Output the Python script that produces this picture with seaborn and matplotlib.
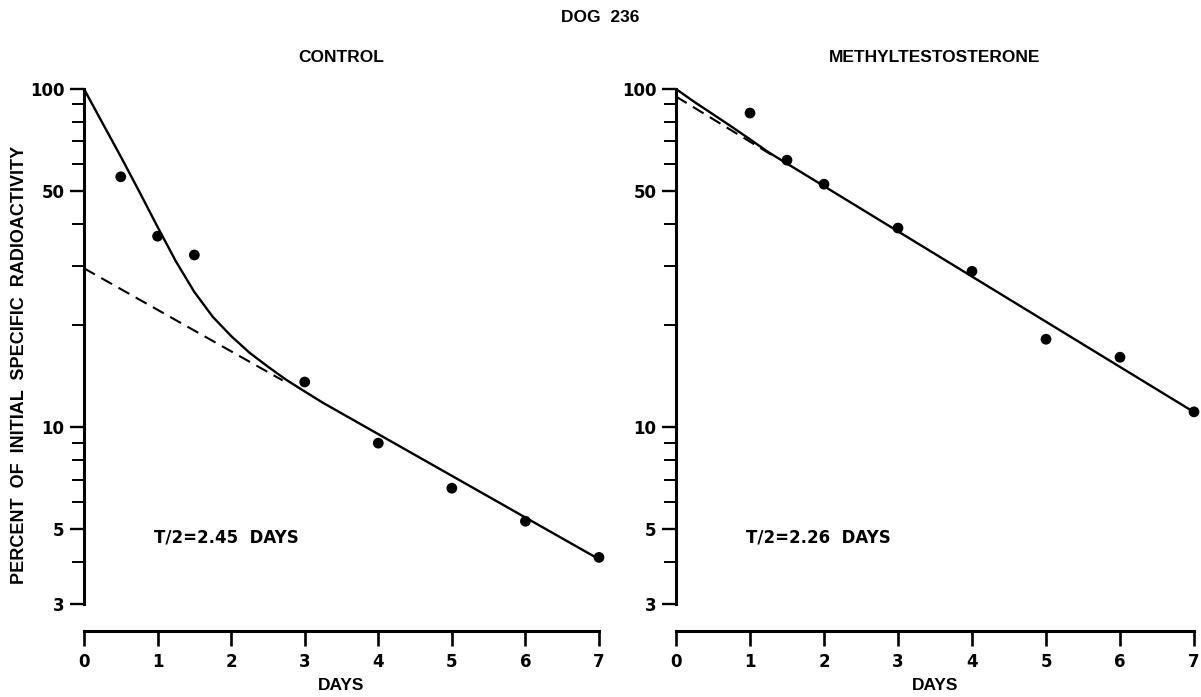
import matplotlib
matplotlib.use("Agg")
import matplotlib.pyplot as plt
import matplotlib.ticker as mticker
import seaborn as sns

# ---------------- data ----------------
days_ticks = [0, 1, 2, 3, 4, 5, 6, 7]
y_major = [3, 5, 10, 50, 100]
y_minor = [4, 6, 7, 8, 9, 20, 30, 40, 60, 70, 80, 90]

# CONTROL panel
ctrl_days = [0.5, 1.0, 1.5, 3.0, 4.0, 5.0, 6.0, 7.0]
ctrl_pct = [55.0, 36.7, 32.3, 13.6, 8.97, 6.6, 5.27, 4.12]
ctrl_curve_days = [0, 0.25, 0.5, 0.75, 1.0, 1.25, 1.5, 1.75, 2.0, 2.25, 2.5, 2.75, 3.0, 3.25, 7.0]
ctrl_curve_pct = [100, 79.4, 63.1, 49.8, 39.1, 30.9, 25.1, 21.2, 18.6, 16.6, 15.1, 13.8, 12.75, 11.8, 4.07]
ctrl_dash_days = [0, 2.7]
ctrl_dash_pct = [29.5, 13.75]
ctrl_label = "T/2=2.45  DAYS"

# METHYLTESTOSTERONE panel
meth_days = [1.0, 1.5, 2.0, 3.0, 4.0, 5.0, 6.0, 7.0]
meth_pct = [84.9, 61.6, 52.3, 38.8, 28.9, 18.2, 16.1, 11.1]
meth_curve_days = [0, 0.25, 0.5, 0.75, 1.0, 1.25, 7.0]
meth_curve_pct = [100, 91.5, 84.2, 77.4, 71.0, 65.0, 11.08]
meth_dash_days = [0, 1.3]
meth_dash_pct = [95, 63.7]
meth_label = "T/2=2.26  DAYS"

titles = ["CONTROL", "METHYLTESTOSTERONE"]
suptitle = "DOG  236"
ylabel = "PERCENT  OF  INITIAL  SPECIFIC  RADIOACTIVITY"
xlabel = "DAYS"

# ---------------- style ----------------
sns.set_theme(style="ticks")
NARROW = ["Liberation Sans Narrow", "Liberation Sans", "DejaVu Sans"]
WIDE = ["DejaVu Sans"]
plt.rcParams["font.family"] = NARROW
plt.rcParams["text.color"] = "black"
plt.rcParams["axes.labelcolor"] = "black"
plt.rcParams["axes.edgecolor"] = "black"
plt.rcParams["xtick.color"] = "black"
plt.rcParams["ytick.color"] = "black"

W, H = 1201, 697
fig = plt.figure(figsize=(W / 100, H / 100), dpi=100)
fig.patch.set_facecolor("white")

top_px, bot_px = 89, 604
axes_px = [(84, 599), (676, 1194)]
axes = []
for (l, r) in axes_px:
    ax = fig.add_axes([l / W, 1 - bot_px / H, (r - l) / W, (bot_px - top_px) / H])
    axes.append(ax)

panels = [
    (ctrl_days, ctrl_pct, ctrl_curve_days, ctrl_curve_pct, ctrl_dash_days, ctrl_dash_pct, ctrl_label),
    (meth_days, meth_pct, meth_curve_days, meth_curve_pct, meth_dash_days, meth_dash_pct, meth_label),
]

for i, (ax, p) in enumerate(zip(axes, panels)):
    pd_days, pd_pct, cd, cp, dd, dp, lab = p
    ax.set_facecolor("white")
    sns.lineplot(x=cd, y=cp, ax=ax, color="black", lw=1.7, clip_on=False, estimator=None)
    sns.lineplot(x=dd, y=dp, ax=ax, color="black", lw=1.5, linestyle=(0, (6, 3.5)),
                 clip_on=False, estimator=None)
    sns.scatterplot(x=pd_days, y=pd_pct, ax=ax, color="black", s=60, edgecolor="none",
                    zorder=5, clip_on=False)
    ax.set_yscale("log")
    ax.set_xlim(0, 7)
    ax.set_ylim(3, 100)

    ax.yaxis.set_major_locator(mticker.FixedLocator(y_major))
    ax.yaxis.set_major_formatter(mticker.FixedFormatter([str(v) for v in y_major]))
    ax.yaxis.set_minor_locator(mticker.FixedLocator(y_minor))
    ax.yaxis.set_minor_formatter(mticker.NullFormatter())
    ax.xaxis.set_major_locator(mticker.FixedLocator(days_ticks))
    ax.xaxis.set_major_formatter(mticker.FixedFormatter([str(v) for v in days_ticks]))
    ax.xaxis.set_minor_locator(mticker.NullLocator())

    for s in ["top", "right"]:
        ax.spines[s].set_visible(False)
    ax.spines["left"].set_linewidth(2.2)
    ax.spines["bottom"].set_linewidth(2.2)
    ax.spines["left"].set_color("black")
    ax.spines["bottom"].set_color("black")
    ax.spines["bottom"].set_position(("outward", 19.5))

    ax.tick_params(axis="y", which="major", direction="out", length=10, width=1.7,
                   pad=4, labelsize=12, colors="black")
    ax.tick_params(axis="y", which="minor", direction="out", length=9, width=1.4,
                   colors="black")
    ax.tick_params(axis="x", which="major", direction="out", length=11, width=1.9,
                   pad=5, labelsize=12, colors="black")
    for t in ax.get_xticklabels() + ax.get_yticklabels():
        t.set_family(WIDE)
        t.set_fontweight("bold")

    ax.text(0.95, 4.72, lab, ha="left", va="center", fontsize=12, fontweight="bold",
            family=WIDE, color="black")
    ax.set_xlabel(xlabel, fontsize=12.5, fontweight="bold", labelpad=5, family=NARROW,
                  color="black")
    ax.set_ylabel("")
    ax.text(0.5, 1 + 32 / (bot_px - top_px), titles[i], transform=ax.transAxes,
            ha="center", va="center", fontsize=12.5, fontweight="bold", family=NARROW,
            color="black")
    ax.grid(False)

fig.text(20 / W, 1 - 365 / H, ylabel, rotation=90, ha="center", va="center",
         fontsize=13, fontweight="bold", family=NARROW, color="black")
fig.text(0.5, 1 - 17 / H, suptitle, ha="center", va="center", fontsize=12.5,
         fontweight="bold", family=NARROW, color="black")

fig.savefig("out.png", dpi=100, facecolor="white")
